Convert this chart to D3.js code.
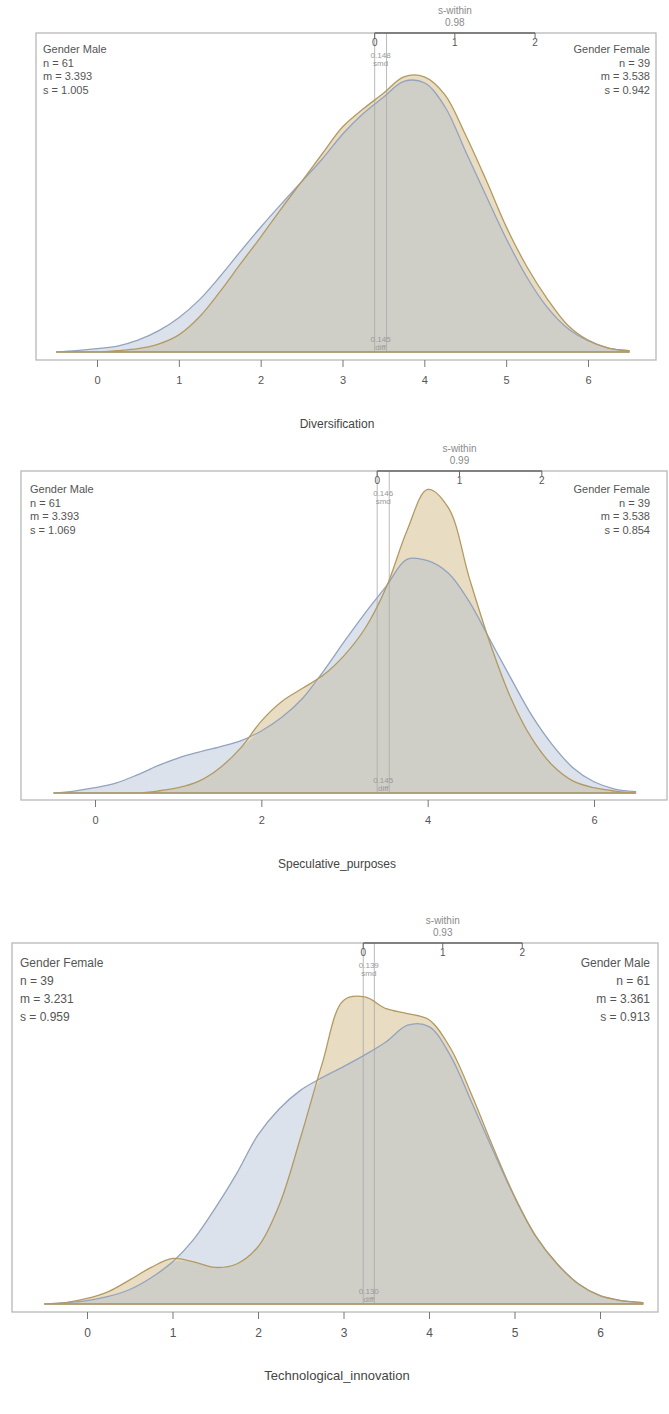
<!DOCTYPE html>
<html><head><meta charset="utf-8">
<script src="https://cdn.jsdelivr.net/npm/d3@7"></script>
<style>body{margin:0;background:#fff} text{font-family:"Liberation Sans",Arial,sans-serif}</style>
</head><body><svg id="c" width="669" height="1414"></svg>
<script>
// ---- data ----
const gridX = [-0.5,-0.25,0,0.25,0.5,0.75,1,1.25,1.5,1.75,2,2.25,2.5,2.75,3,3.25,3.5,3.75,4,4.25,4.5,4.75,5,5.25,5.5,5.75,6,6.25,6.5];
const titles = ["Diversification","Speculative_purposes","Technological_innovation"];
const leftGroup = ["Gender Male","Gender Male","Gender Female"];
const rightGroup = ["Gender Female","Gender Female","Gender Male"];
const leftN = [61,61,39], rightN = [39,39,61];
const leftM = ["3.393","3.393","3.231"], rightM = ["3.538","3.538","3.361"];
const leftS = ["1.005","1.069","0.959"], rightS = ["0.942","0.854","0.913"];
const sWithin = [0.98,0.99,0.93];
const smdLabel = ["0.148","0.146","0.139"];
const diffLabel = ["0.145","0.145","0.130"];
const xTicks = [[0,1,2,3,4,5,6],[0,2,4,6],[0,1,2,3,4,5,6]];
// kernel density estimates (male = blue, female = tan)
const divMale  = [0,.002,.005,.009,.018,.032,.052,.079,.114,.152,.189,.224,.258,.292,.330,.361,.386,.410,.408,.372,.305,.238,.172,.114,.068,.036,.017,.006,.002];
const divFemale= [0,0,0,.002,.005,.012,.026,.053,.091,.133,.174,.217,.258,.300,.341,.368,.392,.417,.417,.390,.330,.262,.190,.130,.081,.041,.018,.006,.002];
const specMale = [0,.003,.008,.015,.027,.041,.053,.062,.070,.079,.094,.115,.144,.185,.230,.273,.313,.354,.352,.333,.290,.232,.174,.118,.073,.038,.017,.006,.002];
const specFemale=[0,0,0,0,0,.003,.008,.018,.038,.068,.109,.139,.159,.179,.209,.250,.311,.397,.460,.432,.326,.227,.144,.083,.042,.018,.008,.003,0];
const techMale = [0,.002,.005,.011,.021,.038,.061,.094,.139,.189,.245,.283,.310,.328,.344,.361,.380,.404,.402,.360,.292,.222,.155,.098,.058,.029,.012,.005,.002];
const techFemale=[0,.002,.008,.018,.035,.053,.066,.061,.053,.058,.083,.144,.242,.348,.440,.445,.428,.421,.412,.371,.303,.227,.156,.098,.058,.029,.012,.005,.002];
const maleDens = [divMale, specMale, techMale];
const femaleDens = [divFemale, specFemale, techFemale];

// ---- layout ----
const layout = [
  {x0:97,x6:588, bx:[36,656], by:[33,360], base:352, k:660, ty:49, dy:13.5, fs:11, lx:43, rx:650, titleY:428},
  {x0:95,x6:594, bx:[21,667], by:[471,800], base:793, k:660, ty:489, dy:13.5, fs:11, lx:30, rx:650, titleY:868},
  {x0:87,x6:600, bx:[12,658], by:[943,1312], base:1304, k:690, ty:963, dy:18, fs:12, lx:20, rx:650, titleY:1380}
];
const col = {blueFill:"#dbe2ec", tanFill:"#e8dcc3", overlap:"#cfcfc8", blueLine:"#93a3be", tanLine:"#b39a62", box:"#b8b8b8", txt:"#555", light:"#8a8a8a"};

const svg = d3.select("#c");
layout.forEach((L,p)=>{
  const g = svg.append("g");
  const x = d3.scaleLinear().domain([0,6]).range([L.x0,L.x6]);
  const y = d3.scaleLinear().domain([0,0.5]).range([L.base, L.base-0.5*L.k]);
  const m = maleDens[p], f = femaleDens[p];
  g.append("rect").attr("x",L.bx[0]).attr("y",L.by[0]).attr("width",L.bx[1]-L.bx[0]).attr("height",L.by[1]-L.by[0])
    .attr("fill","none").attr("stroke",col.box).attr("stroke-width",1.3);
  const area = arr => d3.area().curve(d3.curveCatmullRom.alpha(0.5)).x((d,i)=>x(gridX[i])).y0(y(0)).y1((d,i)=>y(arr[i]))(gridX);
  const ov = gridX.map((d,i)=>Math.min(m[i],f[i]));
  g.append("path").attr("d",area(m)).attr("fill",col.blueFill);
  g.append("path").attr("d",area(f)).attr("fill",col.tanFill);
  g.append("path").attr("d",area(ov)).attr("fill",col.overlap);
  const mL = +leftM[p], mR = +rightM[p];
  [mL,mR].forEach(mv=>{
    g.append("line").attr("x1",x(mv)).attr("x2",x(mv)).attr("y1",L.by[0]).attr("y2",y(0))
      .attr("stroke","#a9a9a9").attr("stroke-width",0.8);
  });
  g.append("path").attr("d",area(m)).attr("fill","none").attr("stroke",col.blueLine).attr("stroke-width",1.3);
  g.append("path").attr("d",area(f)).attr("fill","none").attr("stroke",col.tanLine).attr("stroke-width",1.3);
  const mid = (x(mL)+x(mR))/2;
  g.append("text").attr("x",mid).attr("y",L.by[0]+25).attr("text-anchor","middle").attr("font-size",8).attr("fill","#999").text(smdLabel[p]);
  g.append("text").attr("x",mid).attr("y",L.by[0]+33).attr("text-anchor","middle").attr("font-size",8).attr("fill","#999").text("smd");
  g.append("text").attr("x",mid).attr("y",y(0)-10).attr("text-anchor","middle").attr("font-size",8).attr("fill","#999").text(diffLabel[p]);
  g.append("text").attr("x",mid).attr("y",y(0)-2).attr("text-anchor","middle").attr("font-size",8).attr("fill","#999").text("diff");
  const sw = sWithin[p];
  const sx = v => x(mL + v*sw);
  g.append("line").attr("x1",sx(0)).attr("x2",sx(2)).attr("y1",L.by[0]).attr("y2",L.by[0]).attr("stroke","#666").attr("stroke-width",1.6);
  [0,1,2].forEach(v=>{
    g.append("line").attr("x1",sx(v)).attr("x2",sx(v)).attr("y1",L.by[0]).attr("y2",L.by[0]+5).attr("stroke","#666");
    g.append("text").attr("x",sx(v)).attr("y",L.by[0]+13).attr("text-anchor","middle").attr("font-size",10).attr("fill","#555").text(v);
  });
  g.append("text").attr("x",sx(1)).attr("y",L.by[0]-19).attr("text-anchor","middle").attr("font-size",10).attr("fill",col.light).text("s-within");
  g.append("text").attr("x",sx(1)).attr("y",L.by[0]-7).attr("text-anchor","middle").attr("font-size",10).attr("fill",col.light).text(sw.toFixed(2));
  const lt = [leftGroup[p], "n = "+leftN[p], "m = "+leftM[p], "s = "+leftS[p]];
  const rt = [rightGroup[p], "n = "+rightN[p], "m = "+rightM[p], "s = "+rightS[p]];
  lt.forEach((t,i)=>g.append("text").attr("x",L.lx).attr("y",L.ty+i*L.dy+4).attr("font-size",L.fs).attr("fill",col.txt).text(t));
  rt.forEach((t,i)=>g.append("text").attr("x",L.rx).attr("y",L.ty+i*L.dy+4).attr("text-anchor","end").attr("font-size",L.fs).attr("fill",col.txt).text(t));
  const ax = g.append("g").attr("transform",`translate(0,${L.by[1]})`)
    .call(d3.axisBottom(x).tickValues(xTicks[p]).tickSize(7).tickPadding(9).tickFormat(d3.format("d")));
  ax.select(".domain").remove();
  ax.selectAll("line").attr("stroke","#777");
  ax.selectAll("text").attr("font-size",L.fs).attr("fill",col.txt).attr("font-family","Liberation Sans, Arial, sans-serif");
  g.append("text").attr("x",337).attr("y",L.titleY).attr("text-anchor","middle").attr("font-size",L.fs+1).attr("fill","#444").text(titles[p]);
});
</script></body></html>
